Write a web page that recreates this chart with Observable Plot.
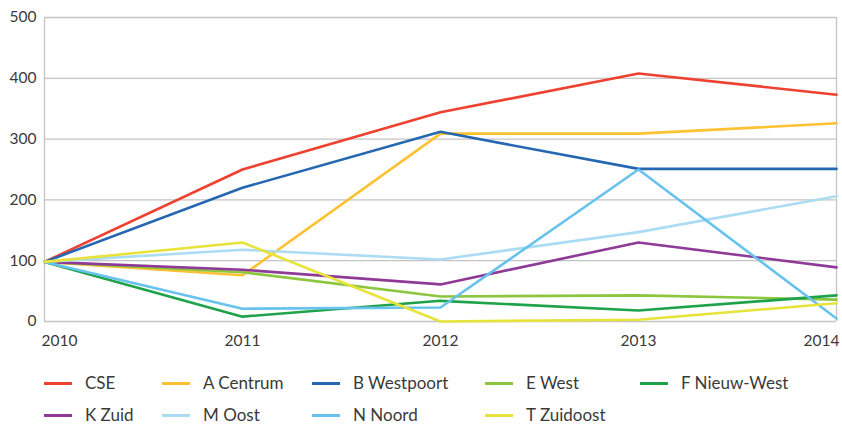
<!DOCTYPE html>
<html>
<head>
<meta charset="utf-8">
<script src="https://cdn.jsdelivr.net/npm/d3@7"></script>
<script src="https://cdn.jsdelivr.net/npm/@observablehq/plot@0.6"></script>
<style>
  html, body { margin: 0; padding: 0; background: #fff; }
  body { font-family: Lato, "Open Sans", sans-serif; width: 842px; height: 425px; overflow: hidden; }
  #wrap { position: relative; width: 842px; height: 425px; }
  #legend { position: absolute; left: 0; top: 0; width: 842px; height: 425px; pointer-events: none; }
  .item { position: absolute; display: flex; align-items: center; font-size: 17px; color: #3a3a3a; line-height: 20px; }
  .sw { width: 28px; height: 3px; margin-right: 13px; }
</style>
</head>
<body>
<div id="wrap"><div id="chart"></div><div id="legend"></div></div>
<script>
const years = [2010, 2011, 2012, 2013, 2014];
const seriesNames = ["CSE", "A Centrum", "B Westpoort", "E West", "F Nieuw-West", "K Zuid", "M Oost", "N Noord", "T Zuidoost"];
const seriesColors = ["#ee4130", "#fdc232", "#2667b1", "#8cc63f", "#1ea24a", "#8e3a97", "#acdcf4", "#67c2ed", "#e8e33a"];
const CSE         = [98, 250, 344, 408, 373];
const ACentrum    = [98, 76, 309, 309, 326];
const BWestpoort  = [98, 220, 312, 251, 251];
const EWest       = [98, 81, 41, 43, 36];
const FNieuwWest  = [98, 8, 34, 18, 43];
const KZuid       = [98, 85, 61, 130, 89];
const MOost       = [98, 118, 102, 147, 206];
const NNoord      = [98, 21, 23, 250, 5];
const TZuidoost   = [98, 130, 0, 3, 30];
const yTicks = [0, 100, 200, 300, 400, 500];

const seriesValues = [CSE, ACentrum, BWestpoort, EWest, FNieuwWest, KZuid, MOost, NNoord, TZuidoost];
const rows = [];
seriesNames.forEach((name, i) => {
  years.forEach((yr, j) => rows.push({series: name, year: yr, value: seriesValues[i][j]}));
});

const fmt = d => String(d);
const tickText = {fontSize: 15.5, fill: "#3a3a3a"};
const chart = Plot.plot({
  width: 842,
  height: 357,
  marginLeft: 44,
  marginRight: 6,
  marginTop: 17,
  marginBottom: 36,
  style: {fontFamily: "Lato, 'Open Sans', sans-serif", background: "#fff"},
  x: {domain: [2010, 2014]},
  y: {domain: [0, 500]},
  color: {domain: seriesNames, range: seriesColors},
  marks: [
    Plot.gridY(yTicks, {stroke: "#c4c4c4", strokeOpacity: 1, strokeWidth: 1.3}),
    Plot.ruleX([2010, 2014], {stroke: "#c4c4c4", strokeWidth: 1.3}),
    Plot.axisY(yTicks, {tickSize: 0, tickPadding: 8, label: null, ...tickText}),
    Plot.axisX([2010], {tickSize: 0, tickPadding: 13, label: null, textAnchor: "start", dx: -3, tickFormat: fmt, ...tickText}),
    Plot.axisX([2011, 2012, 2013], {tickSize: 0, tickPadding: 13, label: null, tickFormat: fmt, ...tickText}),
    Plot.axisX([2014], {tickSize: 0, tickPadding: 13, label: null, textAnchor: "end", dx: 3, tickFormat: fmt, ...tickText}),
    Plot.line(rows, {x: "year", y: "value", z: "series", stroke: "series", strokeWidth: 2.6, strokeLinejoin: "miter"})
  ]
});
document.getElementById("chart").appendChild(chart);

const legendLeft = [44, 162, 312, 485, 640];
const legendTop = [373, 405];
const legend = document.getElementById("legend");
seriesNames.forEach((name, i) => {
  const item = document.createElement("div");
  item.className = "item";
  item.style.left = legendLeft[i % 5] + "px";
  item.style.top = legendTop[Math.floor(i / 5)] + "px";
  const sw = document.createElement("span");
  sw.className = "sw";
  sw.style.background = seriesColors[i];
  const lab = document.createElement("span");
  lab.textContent = name;
  item.appendChild(sw);
  item.appendChild(lab);
  legend.appendChild(item);
});
</script>
</body>
</html>
